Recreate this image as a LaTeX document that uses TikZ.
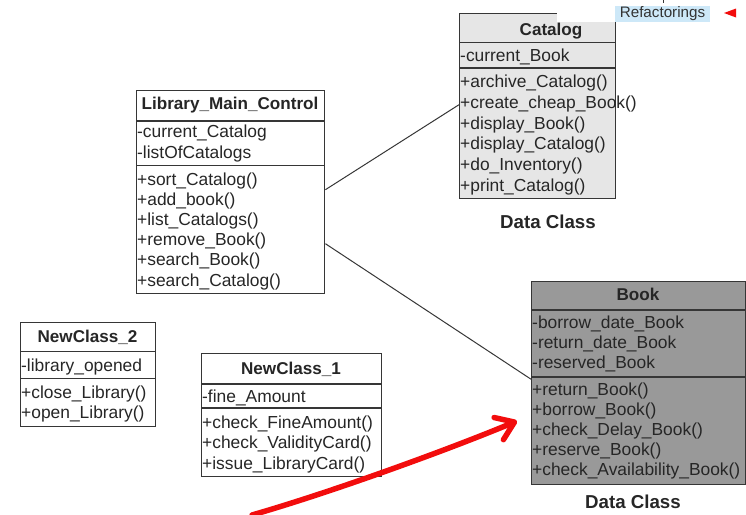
\documentclass[tikz,border=0pt]{standalone}
\usepackage{fontspec}
\setmainfont{Liberation Sans}
\usetikzlibrary{arrows.meta}

\definecolor{linegray}{HTML}{363636}
\definecolor{catfill}{HTML}{E6E6E6}
\definecolor{bookfill}{HTML}{999999}
\definecolor{arrowred}{HTML}{F20D0D}
\definecolor{tagblue}{HTML}{CDE8F8}

\tikzset{
  classbox/.style={draw=linegray, line width=1.4pt, inner sep=0pt, anchor=north west},
  sepline/.style={draw=linegray, line width=1.8pt},
  rowtext/.style={anchor=base west, inner sep=0pt, text=black!85,
                  font=\fontsize{17.4}{20}\selectfont},
  titletext/.style={anchor=base, inner sep=0pt, text=black!85,
                    font=\fontsize{17.1}{20}\selectfont\bfseries},
  caption/.style={anchor=base, inner sep=0pt, text=black!85,
                  font=\fontsize{18.7}{22}\selectfont\bfseries},
  assoc/.style={draw=linegray, line width=1pt},
  redarrow/.style={draw=arrowred, line width=5.5pt, line cap=round,
                   -{Straight Barb[length=17pt,width=24pt,round]}},
}

\begin{document}
\begin{tikzpicture}[x=1pt,y=-1pt]
\useasboundingbox (0,0) rectangle (746,514);

% ---------- Catalog ----------
\node[classbox, fill=catfill, minimum width=156pt, minimum height=185pt] (cat) at (459,13) {};
\draw[sepline] (459,42.5) -- (615,42.5);
\draw[sepline] (459,68) -- (615,68);
\node[titletext] (cat-t) at (551,35) {Catalog};
\node[rowtext] (cat-a1) at (460,61.5) {-current\_Book};
\node[rowtext] (cat-m1) at (460,87.5) {+archive\_Catalog()};
\node[rowtext] (cat-m2) at (460,108.3) {+create\_cheap\_Book()};
\node[rowtext] (cat-m3) at (460,129.1) {+display\_Book()};
\node[rowtext] (cat-m4) at (460,149.9) {+display\_Catalog()};
\node[rowtext] (cat-m5) at (460,170.7) {+do\_Inventory()};
\node[rowtext] (cat-m6) at (460,191.5) {+print\_Catalog()};
\node[caption] (cat-c) at (548,228) {Data Class};

% ---------- Library_Main_Control ----------
\node[classbox, fill=white, minimum width=188pt, minimum height=203pt] (lmc) at (136,90) {};
\draw[sepline] (136,121) -- (324,121);
\draw[sepline] (136,165.5) -- (324,165.5);
\node[titletext] (lmc-t) at (230,109.5) {Library\_Main\_Control};
\node[rowtext] (lmc-a1) at (137,137.5) {-current\_Catalog};
\node[rowtext] (lmc-a2) at (137,158)   {-listOfCatalogs};
\node[rowtext] (lmc-m1) at (137,185)   {+sort\_Catalog()};
\node[rowtext] (lmc-m2) at (137,205.2) {+add\_book()};
\node[rowtext] (lmc-m3) at (137,225.4) {+list\_Catalogs()};
\node[rowtext] (lmc-m4) at (137,245.6) {+remove\_Book()};
\node[rowtext] (lmc-m5) at (137,265.8) {+search\_Book()};
\node[rowtext] (lmc-m6) at (137,286)   {+search\_Catalog()};

% ---------- Book ----------
\node[classbox, fill=bookfill, minimum width=214pt, minimum height=203pt] (book) at (531,280.5) {};
\draw[sepline] (531,310) -- (745,310);
\draw[sepline] (531,377) -- (745,377);
\node[titletext] (book-t) at (638,300.5) {Book};
\node[rowtext] (book-a1) at (532,328)   {-borrow\_date\_Book};
\node[rowtext] (book-a2) at (532,348.3) {-return\_date\_Book};
\node[rowtext] (book-a3) at (532,368.6) {-reserved\_Book};
\node[rowtext] (book-m1) at (532,395.5) {+return\_Book()};
\node[rowtext] (book-m2) at (532,415.5) {+borrow\_Book()};
\node[rowtext] (book-m3) at (532,435.5) {+check\_Delay\_Book()};
\node[rowtext] (book-m4) at (532,455.5) {+reserve\_Book()};
\node[rowtext] (book-m5) at (532,475.5) {+check\_Availability\_Book()};
\node[caption] (book-c) at (633,508) {Data Class};

% ---------- NewClass_2 ----------
\node[classbox, fill=white, minimum width=135pt, minimum height=104pt] (nc2) at (20,322) {};
\draw[sepline] (20,351.5) -- (155,351.5);
\draw[sepline] (20,378.5) -- (155,378.5);
\node[titletext] (nc2-t) at (87.5,342.5) {NewClass\_2};
\node[rowtext] (nc2-a1) at (21,371)   {-library\_opened};
\node[rowtext] (nc2-m1) at (21,398)   {+close\_Library()};
\node[rowtext] (nc2-m2) at (21,418.3) {+open\_Library()};

% ---------- NewClass_1 ----------
\node[classbox, fill=white, minimum width=180pt, minimum height=123pt] (nc1) at (201,353) {};
\draw[sepline] (201,384) -- (381,384);
\draw[sepline] (201,408) -- (381,408);
\node[titletext] (nc1-t) at (291,374) {NewClass\_1};
\node[rowtext] (nc1-a1) at (202,402)   {-fine\_Amount};
\node[rowtext] (nc1-m1) at (202,428)   {+check\_FineAmount()};
\node[rowtext] (nc1-m2) at (202,448.6) {+check\_ValidityCard()};
\node[rowtext] (nc1-m3) at (202,469.2) {+issue\_LibraryCard()};

% ---------- associations ----------
\draw[assoc] ([yshift=2.5pt]lmc.east) -- ([yshift=1.5pt]cat.west);
\draw[assoc] ([yshift=-51.5pt]lmc.east) -- ([yshift=3.5pt]book.west);

% ---------- overlay strip with the Refactorings tag ----------
\fill[white] (557,0) rectangle (746,22);
\node[fill=tagblue, inner sep=0pt, minimum width=95pt, minimum height=16pt,
      font=\fontsize{15.2}{18}\selectfont, text=black!80] (tag) at (662.5,13.5) {Refactorings};
\draw[linegray, line width=1pt] (663,0) -- (663,2.5);
\fill[arrowred] (724,13) -- (736,8.5) -- (736,17.5) -- cycle;

% ---------- red highlight arrow ----------
\coordinate (ra0) at (252,515);
\coordinate (ra1) at (332,492);
\coordinate (ra2) at (450,449);
\coordinate (ra3) at (517,421);
\draw[redarrow] (ra0) .. controls (ra1) and (ra2) .. (ra3);
\end{tikzpicture}
\end{document}
